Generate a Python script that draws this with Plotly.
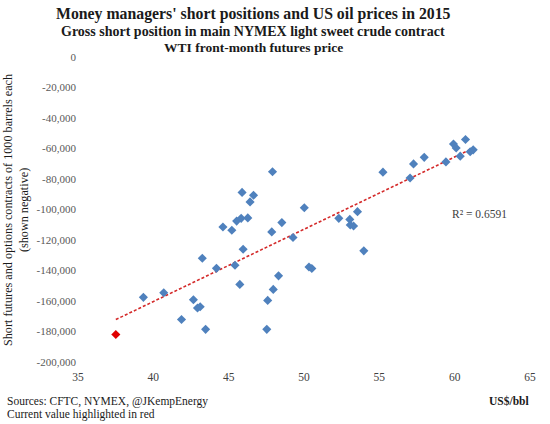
import numpy as np
import plotly.graph_objects as go

# WTI front-month price (US$/bbl) vs money managers' gross short position (contracts, shown negative)
price = [39.34, 40.69, 41.87, 42.66, 42.93, 43.11, 43.47, 43.25, 44.19, 45.42,
         45.74, 45.96, 44.62, 45.21, 45.53, 45.83, 46.27, 46.42, 45.89, 46.65,
         47.91, 47.86, 48.53, 49.27, 50.02, 48.31, 47.96, 47.59, 47.53, 50.33,
         50.52, 52.31, 53.04, 53.55, 53.07, 53.29, 53.97, 55.24, 57.04, 57.27,
         57.98, 59.42, 59.92, 60.10, 60.37, 60.72, 61.03, 61.23]
shorts = [-157600, -154600, -172100, -159200, -164600, -163800, -178600, -132000, -138600, -136600,
          -149100, -126100, -111500, -113600, -107600, -105800, -105500, -95000, -88800, -90700,
          -75200, -114700, -108600, -118400, -98900, -143500, -152400, -159600, -178600, -137700,
          -138700, -105800, -106500, -101400, -110200, -110800, -127100, -75500, -79300, -70100,
          -65800, -68800, -57000, -59700, -65000, -54100, -62100, -60900]
current_price = [37.51]
current_shorts = [-182000]

x_ticks = [35, 40, 45, 50, 55, 60, 65]
y_ticks = [0, -20000, -40000, -60000, -80000, -100000, -120000, -140000, -160000, -180000, -200000]
y_ticktext = ["0"] + [f"{v:,}" for v in y_ticks[1:]]

all_x = np.array(price + current_price)
all_y = np.array(shorts + current_shorts)
slope, intercept = np.polyfit(all_x, all_y, 1)
tx = np.array([all_x.min(), all_x.max()])
ty = slope * tx + intercept

W, H = 550, 424
L, R, T, B = 78, 20, 57, 62
pw, ph = W - L - R, H - T - B

def pxx(px):
    return (px - L) / pw

def pxy(py):
    return (H - B - py) / ph

SERIF = "Liberation Serif"

fig = go.Figure()
fig.add_trace(go.Scatter(x=tx, y=ty, mode="lines",
                         line=dict(color="#D42A2A", width=1.6, dash="3px,2px"),
                         hoverinfo="skip", showlegend=False))
fig.add_trace(go.Scatter(x=price, y=shorts, mode="markers",
                         marker=dict(symbol="diamond", size=7, color="#4F81BD",
                                     line=dict(width=0)),
                         showlegend=False))
fig.add_trace(go.Scatter(x=current_price, y=current_shorts, mode="markers",
                         marker=dict(symbol="diamond", size=7, color="#E00000",
                                     line=dict(width=0)),
                         showlegend=False))

annotations = [
    dict(text="<b>Money managers' short positions and US oil prices in 2015</b>",
         x=pxx(253), y=pxy(14), font=dict(size=15.8)),
    dict(text="<b>Gross short position in main NYMEX light sweet crude contract</b>",
         x=pxx(253), y=pxy(32), font=dict(size=14)),
    dict(text="<b>WTI front-month futures price</b>",
         x=pxx(253), y=pxy(48), font=dict(size=13.5)),
    dict(text="Sources: CFTC, NYMEX, @JKempEnergy",
         x=pxx(5), y=pxy(401), xanchor="left", font=dict(size=11.5)),
    dict(text="Current value highlighted in red",
         x=pxx(5), y=pxy(414), xanchor="left", font=dict(size=11.5)),
    dict(text="<b>US$/bbl</b>",
         x=pxx(531), y=pxy(401), xanchor="right", font=dict(size=11.5)),
    dict(text="Short futures and options contracts of 1000 barrels each<br>(shown negative)",
         x=pxx(16), y=pxy(210), textangle=-90, font=dict(size=12.2)),
]
for a in annotations:
    a.update(xref="paper", yref="paper", showarrow=False)
    a.setdefault("xanchor", "center")
    a["yanchor"] = "middle"
    a["font"].update(family=SERIF, color="#1a1a1a")

annotations.append(dict(text="R² = 0.6591", x=59.7, y=-103000, xref="x", yref="y",
                        xanchor="left", yanchor="middle", showarrow=False,
                        font=dict(family=SERIF, size=11.5, color="#404040")))

fig.update_layout(
    width=W, height=H,
    margin=dict(l=L, r=R, t=T, b=B),
    plot_bgcolor="white", paper_bgcolor="white",
    font=dict(family=SERIF, color="#595959", size=11),
    annotations=annotations,
    xaxis=dict(range=[35, 65], tickvals=x_ticks, showgrid=False, zeroline=False,
               showline=False, ticks="", ticklabelstandoff=6,
               tickfont=dict(size=11.5, color="#404040")),
    yaxis=dict(range=[-200000, 0], tickvals=y_ticks, ticktext=y_ticktext,
               showgrid=False, zeroline=False, showline=False, ticks="",
               ticklabelstandoff=1,
               tickfont=dict(size=11, color="#595959")),
    showlegend=False,
)

fig.write_html("out.html", config={"displayModeBar": False},
               post_script="document.body.style.margin='0';")
